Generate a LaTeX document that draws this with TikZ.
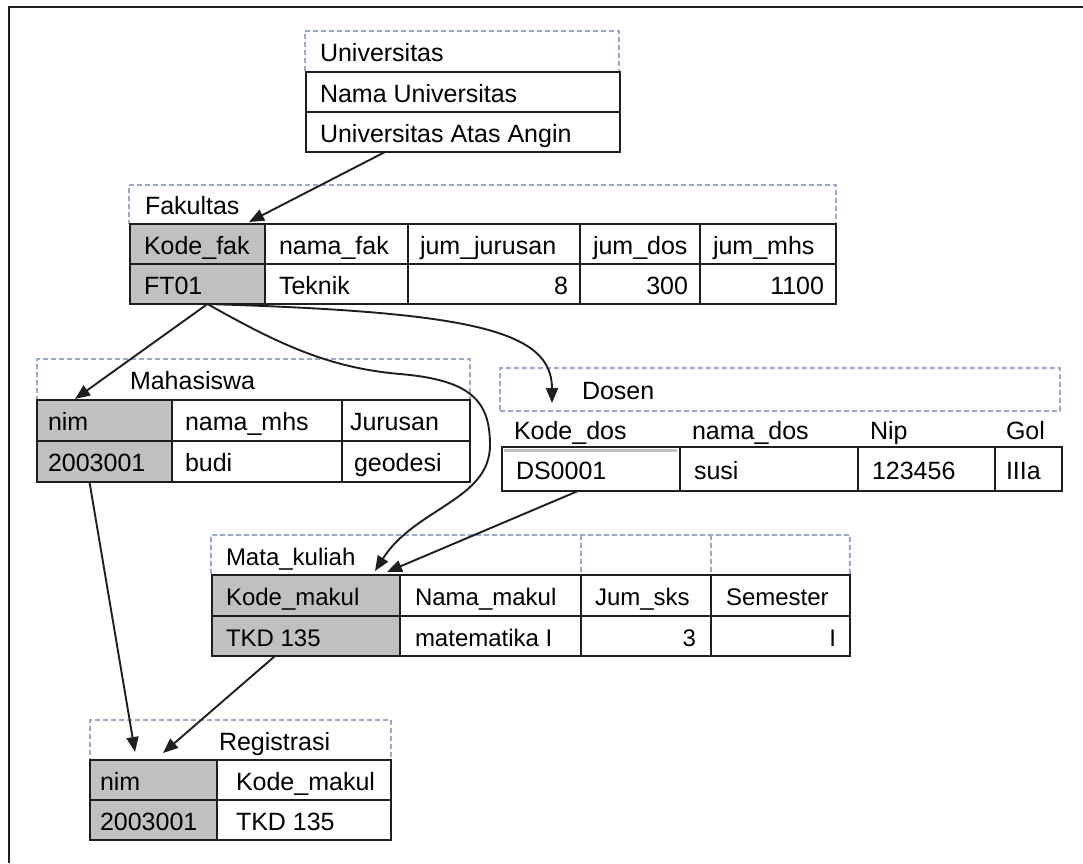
\documentclass[tikz,border=0pt]{standalone}
\usepackage{fontspec}
\setmainfont{Liberation Sans}
\usetikzlibrary{arrows.meta}
\definecolor{dashc}{HTML}{9AAAC8}
\definecolor{keyg}{HTML}{C0C0C0}
\definecolor{linec}{HTML}{1E1E1E}
\tikzset{
 cellsty/.style={draw=linec, line width=2pt, inner sep=0pt, outer sep=0pt},
 keycell/.style={cellsty, fill=keyg},
 plaincell/.style={cellsty, fill=white},
 titlebox/.style={draw=dashc, dash pattern=on 5pt off 3pt, line width=1.4pt, inner sep=0pt, outer sep=0pt},
 lbl/.style={inner sep=0pt, outer sep=0pt, font=\fontsize{25}{30}\selectfont, text=black, text height=22pt, text depth=2pt},
 lbls/.style={lbl, font=\fontsize{24}{29}\selectfont},
 arr/.style={draw=linec, line width=1.9pt, -{Triangle[length=15pt,width=12pt]}},
 frame/.style={draw=linec, line width=2.5pt},
}
\newcommand\mkbox[6]{\node[#6,minimum width=#4pt,minimum height=#5pt,anchor=north west] (#1) at (#2,#3) {};}
\newcommand\lt[5][lbl]{\node[#1,anchor=west] (#2) at ([xshift=#4pt]#3.west) {#5};}
\newcommand\rt[5][lbl]{\node[#1,anchor=east] (#2) at ([xshift=-#4pt]#3.east) {#5};}
\begin{document}
\begin{tikzpicture}[x=1pt,y=-1pt]
\useasboundingbox (0,0) rectangle (1083,863);
\draw[frame] (1083,7) -| (9,863);

% ---------- Universitas ----------
\mkbox{ut}{305}{31}{314}{41}{titlebox}
\mkbox{u1}{306}{72}{314}{40}{plaincell}
\mkbox{u2}{306}{112}{314}{40}{plaincell}
\lt{utt}{ut}{15}{Universitas}
\lt{u1t}{u1}{14}{Nama Universitas}
\lt{u2t}{u2}{14}{Universitas Atas Angin}

% ---------- Fakultas ----------
\mkbox{ft}{129}{185}{707}{39}{titlebox}
\mkbox{f11}{130}{224}{135}{40}{keycell}
\mkbox{f12}{265}{224}{143}{40}{plaincell}
\mkbox{f13}{408}{224}{172}{40}{plaincell}
\mkbox{f14}{580}{224}{120}{40}{plaincell}
\mkbox{f15}{700}{224}{136}{40}{plaincell}
\mkbox{f21}{130}{264}{135}{40}{keycell}
\mkbox{f22}{265}{264}{143}{40}{plaincell}
\mkbox{f23}{408}{264}{172}{40}{plaincell}
\mkbox{f24}{580}{264}{120}{40}{plaincell}
\mkbox{f25}{700}{264}{136}{40}{plaincell}
\lt{ftt}{ft}{16}{Fakultas}
\lt{f11t}{f11}{14}{Kode\_fak}
\lt{f12t}{f12}{14}{nama\_fak}
\lt{f13t}{f13}{12}{jum\_jurusan}
\lt{f14t}{f14}{13}{jum\_dos}
\lt{f15t}{f15}{13}{jum\_mhs}
\lt{f21t}{f21}{14}{FT01}
\lt{f22t}{f22}{14}{Teknik}
\rt{f23t}{f23}{12}{8}
\rt{f24t}{f24}{12}{300}
\rt{f25t}{f25}{12}{1100}

% ---------- Mahasiswa ----------
\mkbox{mt}{37}{359}{433}{41}{titlebox}
\mkbox{m11}{37}{400}{135}{41}{keycell}
\mkbox{m12}{172}{400}{170}{41}{plaincell}
\mkbox{m13}{342}{400}{128}{41}{plaincell}
\mkbox{m21}{37}{441}{135}{41}{keycell}
\mkbox{m22}{172}{441}{170}{41}{plaincell}
\mkbox{m23}{342}{441}{128}{41}{plaincell}
\lt{mtt}{mt}{93}{Mahasiswa}
\lt{m11t}{m11}{11}{nim}
\lt{m12t}{m12}{13}{nama\_mhs}
\lt{m13t}{m13}{8}{Jurusan}
\lt{m21t}{m21}{11}{2003001}
\lt{m22t}{m22}{13}{budi}
\lt{m23t}{m23}{12}{geodesi}

% ---------- Dosen ----------
\mkbox{dt}{500}{368}{560}{43}{titlebox}
\lt{dtt}{dt}{82}{Dosen}
\node[lbl,anchor=west] (dh1) at (514,429) {Kode\_dos};
\node[lbl,anchor=west] (dh2) at (692,429) {nama\_dos};
\node[lbl,anchor=west] (dh3) at (870,429) {Nip};
\node[lbl,anchor=west] (dh4) at (1006,429) {Gol};
\mkbox{d1}{502}{447}{178}{44}{plaincell}
\mkbox{d2}{680}{447}{178}{44}{plaincell}
\mkbox{d3}{858}{447}{137}{44}{plaincell}
\mkbox{d4}{995}{447}{67}{44}{plaincell}
\fill[keyg] (504,449) rectangle (677,452);
\lt{d1t}{d1}{14}{DS0001}
\lt{d2t}{d2}{14}{susi}
\lt{d3t}{d3}{14}{123456}
\lt{d4t}{d4}{11}{IIIa}

% ---------- Mata_kuliah ----------
\mkbox{kt}{211}{535}{639}{40}{titlebox}
\draw[titlebox] (581,535) -- (581,575);
\draw[titlebox] (711,535) -- (711,575);
\mkbox{k11}{212}{575}{188}{41}{keycell}
\mkbox{k12}{400}{575}{181}{41}{plaincell}
\mkbox{k13}{581}{575}{130}{41}{plaincell}
\mkbox{k14}{711}{575}{139}{41}{plaincell}
\mkbox{k21}{212}{616}{188}{40}{keycell}
\mkbox{k22}{400}{616}{181}{40}{plaincell}
\mkbox{k23}{581}{616}{130}{40}{plaincell}
\mkbox{k24}{711}{616}{139}{40}{plaincell}
\lt[lbls]{ktt}{kt}{15}{Mata\_kuliah}
\lt[lbls]{k11t}{k11}{14}{Kode\_makul}
\lt[lbls]{k12t}{k12}{15}{Nama\_makul}
\lt[lbls]{k13t}{k13}{14}{Jum\_sks}
\lt[lbls]{k14t}{k14}{15}{Semester}
\lt[lbls]{k21t}{k21}{14}{TKD 135}
\lt[lbls]{k22t}{k22}{15}{matematika I}
\rt[lbls]{k23t}{k23}{15}{3}
\rt[lbls]{k24t}{k24}{14}{I}

% ---------- Registrasi ----------
\mkbox{rt}{90}{720}{301}{40}{titlebox}
\mkbox{r11}{90}{760}{127}{40}{keycell}
\mkbox{r12}{217}{760}{174}{40}{plaincell}
\mkbox{r21}{90}{800}{127}{40}{keycell}
\mkbox{r22}{217}{800}{174}{40}{plaincell}
\lt{rtt}{rt}{129}{Registrasi}
\lt{r11t}{r11}{10}{nim}
\lt{r12t}{r12}{19}{Kode\_makul}
\lt{r21t}{r21}{10}{2003001}
\lt{r22t}{r22}{19}{TKD 135}

% ---------- connectors ----------
\coordinate (ftout) at ([xshift=10pt]f21.south);
\draw[arr] ([xshift=-78pt]u2.south) -- ([xshift=-16pt,yshift=2pt]f11.north east);
\draw[arr] (ftout) -- ([xshift=38pt,yshift=1pt]m11.north west);
\draw[arr] (ftout) .. controls (470,312) and (552,330) .. ([xshift=52pt,yshift=-35pt]dt.north west);
\draw[arr] (ftout) .. controls (280,345) and (330,368) .. (400,374)
  .. controls (470,380) and (490,400) .. (490,445)
  .. controls (490,500) and (415,508) .. ([xshift=-25pt,yshift=4pt]k11.north east);
\draw[arr] ([xshift=-13pt]d1.south) -- ([xshift=-13pt,yshift=3pt]k11.north east);
\draw[arr] ([xshift=-15pt]m21.south) -- ([xshift=45pt,yshift=8pt]r11.north west);
\draw[arr] ([xshift=-31pt]k21.south) -- ([xshift=73pt,yshift=7pt]r11.north west);
\end{tikzpicture}
\end{document}
